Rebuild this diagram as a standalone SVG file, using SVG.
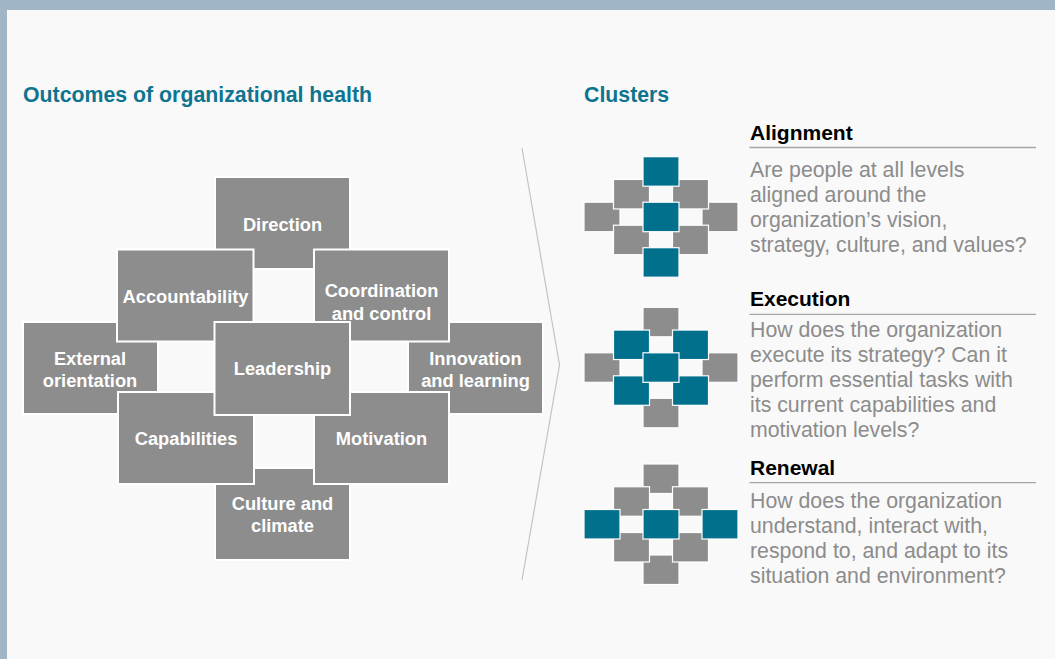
<svg xmlns="http://www.w3.org/2000/svg" width="1055" height="659" viewBox="0 0 1055 659">
  <style>
    .panel { fill: #f9f9f9; }
    .frame { fill: #a0b6c7; }
    .box { fill: #8d8d8d; stroke: #ffffff; stroke-width: 2; }
    .lbl { font-family: "Liberation Sans", Arial, sans-serif; font-size: 18.3px; font-weight: bold; fill: #ffffff; text-anchor: middle; }
    .section { font-family: "Liberation Sans", Arial, sans-serif; font-size: 21.3px; font-weight: bold; fill: #0e7490; }
    .ctitle { font-family: "Liberation Sans", Arial, sans-serif; font-size: 21px; font-weight: bold; fill: #000000; }
    .cbody { font-family: "Liberation Sans", Arial, sans-serif; font-size: 21.3px; fill: #8c8c8c; }
    .rule { stroke: #a6a6a6; stroke-width: 1.3; }
    .mg { fill: #8d8d8d; stroke: #ffffff; stroke-width: 1.2; }
    .mt { fill: #00708d; stroke: #ffffff; stroke-width: 1.2; }
    .divider { fill: none; stroke: #c4c4c4; stroke-width: 1.2; }
  </style>

  <!-- background frame and panel -->
  <rect class="frame" x="0" y="0" width="1055" height="659"/>
  <rect class="panel" x="7" y="10" width="1048" height="649"/>

  <!-- section headings -->
  <text class="section" x="23" y="102">Outcomes of organizational health</text>
  <text class="section" x="584" y="102">Clusters</text>

  <!-- nine outcome boxes, drawn back to front -->
  <g id="direction">
    <rect class="box" x="215" y="177" width="135" height="92"/>
    <text class="lbl" x="282.5" y="231">Direction</text>
  </g>
  <g id="external-orientation">
    <rect class="box" x="23" y="322" width="135" height="92"/>
    <text class="lbl" x="90" y="364.5">External</text>
    <text class="lbl" x="90" y="387">orientation</text>
  </g>
  <g id="innovation-learning">
    <rect class="box" x="408" y="322" width="135" height="92"/>
    <text class="lbl" x="475.5" y="364.5">Innovation</text>
    <text class="lbl" x="475.5" y="387">and learning</text>
  </g>
  <g id="culture-climate">
    <rect class="box" x="215" y="468" width="135" height="92"/>
    <text class="lbl" x="282.5" y="509.5">Culture and</text>
    <text class="lbl" x="282.5" y="532">climate</text>
  </g>
  <g id="accountability">
    <rect class="box" x="117" y="249.5" width="136.5" height="92"/>
    <text class="lbl" x="185.5" y="303">Accountability</text>
  </g>
  <g id="coordination-control">
    <rect class="box" x="314" y="249.5" width="135" height="92"/>
    <text class="lbl" x="381.5" y="297">Coordination</text>
    <text class="lbl" x="381.5" y="319.5">and control</text>
  </g>
  <g id="capabilities">
    <rect class="box" x="118" y="392" width="136" height="92"/>
    <text class="lbl" x="186" y="444.5">Capabilities</text>
  </g>
  <g id="motivation">
    <rect class="box" x="314" y="392" width="135" height="92"/>
    <text class="lbl" x="381.5" y="444.5">Motivation</text>
  </g>
  <g id="leadership">
    <rect class="box" x="214.5" y="322" width="135.5" height="93"/>
    <text class="lbl" x="282.5" y="375">Leadership</text>
  </g>

  <!-- no connectors between the outcome boxes -->
  <g id="connectors"></g>

  <!-- chevron divider between the two halves -->
  <g id="divider">
    <polyline class="divider" points="522,148 559.5,365 522,580"/>
  </g>

  <!-- cluster icon: alignment (vertical axis highlighted) -->
  <g id="icon-alignment" transform="translate(584,156.7)">
    <rect class="mg" x="0" y="45.5" width="36" height="29.5"/>
    <rect class="mg" x="118" y="45.5" width="36" height="29.5"/>
    <rect class="mg" x="29.5" y="22.75" width="36" height="29.5"/>
    <rect class="mg" x="88.5" y="22.75" width="36" height="29.5"/>
    <rect class="mg" x="29.5" y="68.5" width="36" height="29.5"/>
    <rect class="mg" x="88.5" y="68.5" width="36" height="29.5"/>
    <rect class="mt" x="59" y="0" width="36" height="29.5"/>
    <rect class="mt" x="59" y="91" width="36" height="29.5"/>
    <rect class="mt" x="59" y="45.5" width="36" height="29.5"/>
  </g>

  <!-- cluster icon: execution (diagonals and centre highlighted) -->
  <g id="icon-execution" transform="translate(584,307.3)">
    <rect class="mg" x="59" y="0" width="36" height="29.5"/>
    <rect class="mg" x="0" y="45.5" width="36" height="29.5"/>
    <rect class="mg" x="118" y="45.5" width="36" height="29.5"/>
    <rect class="mg" x="59" y="91" width="36" height="29.5"/>
    <rect class="mt" x="29.5" y="22.75" width="36" height="29.5"/>
    <rect class="mt" x="88.5" y="22.75" width="36" height="29.5"/>
    <rect class="mt" x="29.5" y="68.5" width="36" height="29.5"/>
    <rect class="mt" x="88.5" y="68.5" width="36" height="29.5"/>
    <rect class="mt" x="59" y="45.5" width="36" height="29.5"/>
  </g>

  <!-- cluster icon: renewal (horizontal axis highlighted) -->
  <g id="icon-renewal" transform="translate(584,464)">
    <rect class="mg" x="59" y="0" width="36" height="29.5"/>
    <rect class="mg" x="59" y="91" width="36" height="29.5"/>
    <rect class="mg" x="29.5" y="22.75" width="36" height="29.5"/>
    <rect class="mg" x="88.5" y="22.75" width="36" height="29.5"/>
    <rect class="mg" x="29.5" y="68.5" width="36" height="29.5"/>
    <rect class="mg" x="88.5" y="68.5" width="36" height="29.5"/>
    <rect class="mt" x="0" y="45.5" width="36" height="29.5"/>
    <rect class="mt" x="118" y="45.5" width="36" height="29.5"/>
    <rect class="mt" x="59" y="45.5" width="36" height="29.5"/>
  </g>

  <!-- cluster descriptions -->
  <g id="text-alignment">
    <text class="ctitle" x="750" y="140">Alignment</text>
    <line class="rule" x1="749.5" y1="147.5" x2="1036" y2="147.5"/>
    <text class="cbody" x="750" y="176.5">Are people at all levels</text>
    <text class="cbody" x="750" y="201.5">aligned around the</text>
    <text class="cbody" x="750" y="226.5">organization’s vision,</text>
    <text class="cbody" x="750" y="251.5">strategy, culture, and values?</text>
  </g>
  <g id="text-execution">
    <text class="ctitle" x="750" y="306">Execution</text>
    <line class="rule" x1="749.5" y1="314.3" x2="1036" y2="314.3"/>
    <text class="cbody" x="750" y="337">How does the organization</text>
    <text class="cbody" x="750" y="362">execute its strategy? Can it</text>
    <text class="cbody" x="750" y="387">perform essential tasks with</text>
    <text class="cbody" x="750" y="412">its current capabilities and</text>
    <text class="cbody" x="750" y="437">motivation levels?</text>
  </g>
  <g id="text-renewal">
    <text class="ctitle" x="750" y="475">Renewal</text>
    <line class="rule" x1="749.5" y1="482.7" x2="1036" y2="482.7"/>
    <text class="cbody" x="750" y="508.3">How does the organization</text>
    <text class="cbody" x="750" y="533.3">understand, interact with,</text>
    <text class="cbody" x="750" y="558.3">respond to, and adapt to its</text>
    <text class="cbody" x="750" y="583.3">situation and environment?</text>
  </g>
</svg>
